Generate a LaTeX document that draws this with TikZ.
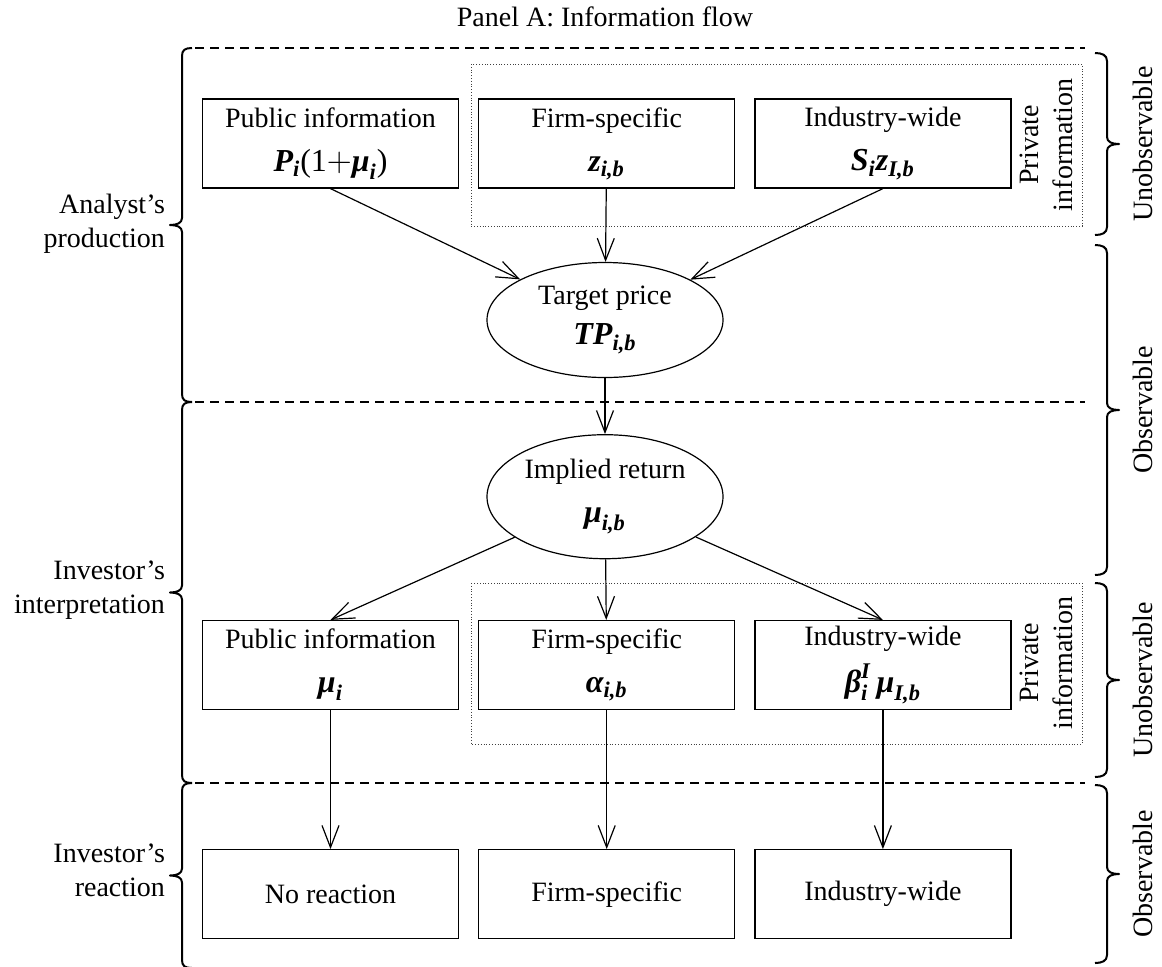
\documentclass[tikz,border=0pt]{standalone}
\usepackage{amsmath}
\usepackage{fontspec}
\setmainfont{Liberation Serif}
\usetikzlibrary{shapes.geometric, arrows.meta, positioning}
\newcommand{\bmi}[1]{\text{\bfseries\itshape #1}}
\newcommand{\eqline}[1]{{\fontsize{16}{17}\selectfont$#1$}}

\begin{document}
\begin{tikzpicture}[x=0.5pt, y=-0.5pt, every node/.style={font=\fontsize{14}{17}\selectfont}]
    \tikzstyle{infobox} = [rectangle, draw=black, line width=0.6pt, minimum width=128pt, minimum height=44.5pt, align=center, inner sep=2pt]
    \tikzstyle{estimate} = [ellipse, draw=black, line width=0.6pt, minimum width=118pt, minimum height=57.5pt, align=center, inner sep=0pt]
    \tikzstyle{arrow} = [line width=0.6pt, -{Straight Barb[length=11pt,width=8.5pt]}]
    \tikzstyle{layer} = [line width=0.8pt, dash pattern=on 4.5pt off 3pt]
    \tikzstyle{private} = [line width=0.4pt, densely dotted, draw=black!75]
    \tikzstyle{bracket} = [line width=1pt, line join=round]
    \tikzstyle{sidelabel} = [align=right, anchor=east]
    \tikzstyle{stage} = [rotate=90]
    \useasboundingbox (0,0) rectangle (1162,966);
    \node (title) at (605,17) {Panel A: Information flow};
    % Layers
    \draw [layer] (195,48) -- (1085,48);
    \draw [layer] (195,402) -- (1085,402);
    \draw [layer] (195,783) -- (1085,783);
    \draw [private] (471,64) rectangle (1082,226);
    \draw [private] (471,583) rectangle (1082,744);
    % Nodes
    \node (pub1) [infobox] at (330.5,143.5) {Public information\\[5pt]\eqline{\bmi{P}_{\bmi{i}}\text{(1}{+}\bmi{μ}_{\bmi{i}}\text{)}}};
    \node (firm1) [infobox, right=9.5pt of pub1] {Firm-specific\\[5pt]\eqline{\bmi{z}_{\bmi{i,b}}}};
    \node (ind1) [infobox, right=9.5pt of firm1] {Industry-wide\\[5pt]\eqline{\bmi{S}_{\bmi{i}}\bmi{z}_{\bmi{I,b}}}};
    \node (tp) [estimate] at (605,320) {Target price\\[3pt]\eqline{\bmi{TP}_{\bmi{i,b}}}};
    \node (ir) [estimate, minimum height=62pt, below=28pt of tp] {Implied return\\[5pt]\eqline{\bmi{μ}_{\bmi{i,b}}}};
    \node (pub2) [infobox] at (330.5,665) {Public information\\[5pt]\eqline{\bmi{μ}_{\bmi{i}}}};
    \node (firm2) [infobox, right=9.5pt of pub2] {Firm-specific\\[5pt]\eqline{\bmi{α}_{\bmi{i,b}}}};
    \node (ind2) [infobox, right=9.5pt of firm2] {Industry-wide\\[5pt]\eqline{\bmi{β}^{\bmi{I}}_{\bmi{i}}\,\bmi{μ}_{\bmi{I,b}}}};
    \node (pub3) [infobox, below=69.5pt of pub2] {No reaction};
    \node (firm3) [infobox, right=9.5pt of pub3] {Firm-specific};
    \node (ind3) [infobox, right=9.5pt of firm3] {Industry-wide};
    \node (priv1) [stage, align=center] at (1046,145) {Private\\information};
    \node (priv2) [stage, align=center] at (1046,663) {Private\\information};
    % Brackets, left side
    \foreach \ya/\ym/\yb in {48/225/402, 402/592.5/783, 783/875.5/968}
      \draw [bracket] (192,\ya) .. controls (185,\ya) and (182,\ya+2) .. (182,\ya+8) -- (182,\ym-7)
        .. controls (182,\ym-2) and (177,\ym) .. (170,\ym) .. controls (177,\ym) and (182,\ym+2) .. (182,\ym+7)
        -- (182,\yb-8) .. controls (182,\yb-2) and (185,\yb) .. (192,\yb);
    \node (analyst) [sidelabel] at (172,224) {Analyst’s\\production};
    \node (interpret) [sidelabel] at (172,590) {Investor’s\\interpretation};
    \node (react) [sidelabel] at (172,870) {Investor’s\\reaction};
    % Brackets, right side
    \foreach \ya/\ym/\yb in {53/144/235, 245/410/575, 583/680/777, 785/874/963}
      \draw [bracket] (1095,\ya) .. controls (1102,\ya) and (1107,\ya+2) .. (1107,\ya+8) -- (1107,\ym-7)
        .. controls (1107,\ym-2) and (1112,\ym) .. (1119,\ym) .. controls (1112,\ym) and (1107,\ym+2) .. (1107,\ym+7)
        -- (1107,\yb-8) .. controls (1107,\yb-2) and (1102,\yb) .. (1095,\yb);
    \node (unobs1) [stage] at (1143,144) {Unobservable};
    \node (obs1) [stage] at (1143,410) {Observable};
    \node (unobs2) [stage] at (1143,680) {Unobservable};
    \node (obs2) [stage] at (1143,874) {Observable};
    % Arrows
    \draw [arrow] (pub1.south) -- (tp);
    \draw [arrow] (firm1) -- (tp);
    \draw [arrow] (ind1.south) -- (tp);
    \draw [arrow] (tp) -- (ir);
    \draw [arrow] (ir) -- (pub2.north);
    \draw [arrow] (ir) -- (firm2);
    \draw [arrow] (ir) -- (ind2.north);
    \draw [arrow] (pub2) -- (pub3);
    \draw [arrow] (firm2) -- (firm3);
    \draw [arrow] (ind2) -- (ind3);
\end{tikzpicture}
\end{document}
